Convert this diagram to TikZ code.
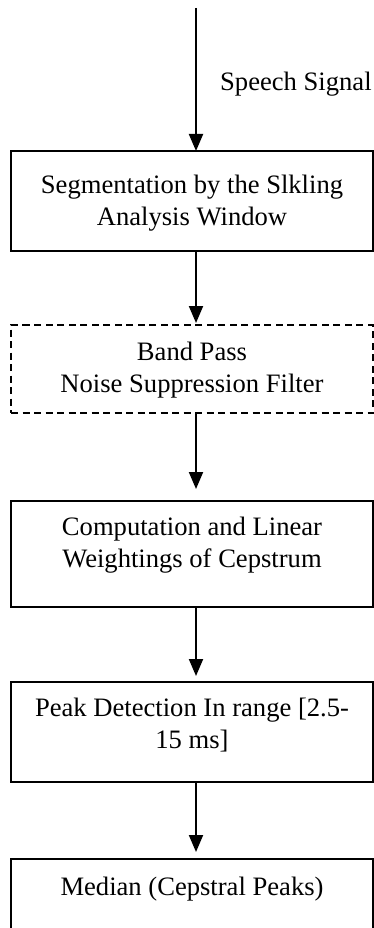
\documentclass[tikz,border=0pt]{standalone}
\usepackage{fontspec}
\setmainfont{Liberation Serif}
\usetikzlibrary{positioning,arrows.meta}

\begin{document}
\begin{tikzpicture}[x=1pt,y=-1pt,
  box/.style={draw,line width=1.5pt,minimum width=362pt,inner sep=0pt,outer sep=0pt},
  txt/.style={align=center,inner sep=0pt,font=\fontsize{26.6}{32}\selectfont},
  flow/.style={-{Triangle[length=17pt,width=14pt]},line width=2pt}]
  \useasboundingbox (0,0) rectangle (374,928);
	% boxes
	\node[box,anchor=north,minimum height=100pt] (seg) at (192,151) {};
	\node[box,dash pattern=on 7pt off 4.5pt,minimum height=88pt,below=74pt of seg] (bpf) {};
	\node[box,minimum height=106pt,below=88pt of bpf] (cep) {};
	\node[box,minimum height=100pt,below=75pt of cep] (peak) {};
	\node[box,minimum height=100pt,below=77pt of peak] (med) {};
	% texts
	\node[txt,below=24pt of seg.north] (segtxt) {Segmentation by the Slkling\\Analysis Window};
	\node[txt,below=17pt of bpf.north] (bpftxt) {Band Pass\\Noise Suppression Filter};
	\node[txt,below=16pt of cep.north] (ceptxt) {Computation and Linear\\Weightings of Cepstrum};
	\node[txt,below=16pt of peak.north] (peaktxt) {Peak Detection In range [2.5-\\15 ms]};
	\node[txt,below=18pt of med.north] (medtxt) {Median (Cepstral Peaks)};
	\node[txt,anchor=base west] (sig) at (220,91) {Speech Signal};
	% arrows
	\coordinate (src) at (196,8);
	\draw[flow] (src) -- (src |- seg.north);
	\draw[flow,shorten >=2pt] (seg.south -| src) -- (bpf.north -| src);
	\draw[flow,shorten >=12pt] (bpf.south -| src) -- (cep.north -| src);
	\draw[flow,shorten >=6pt] (cep.south -| src) -- (peak.north -| src);
	\draw[flow,shorten >=7pt] (peak.south -| src) -- (med.north -| src);
\end{tikzpicture}
\end{document}
